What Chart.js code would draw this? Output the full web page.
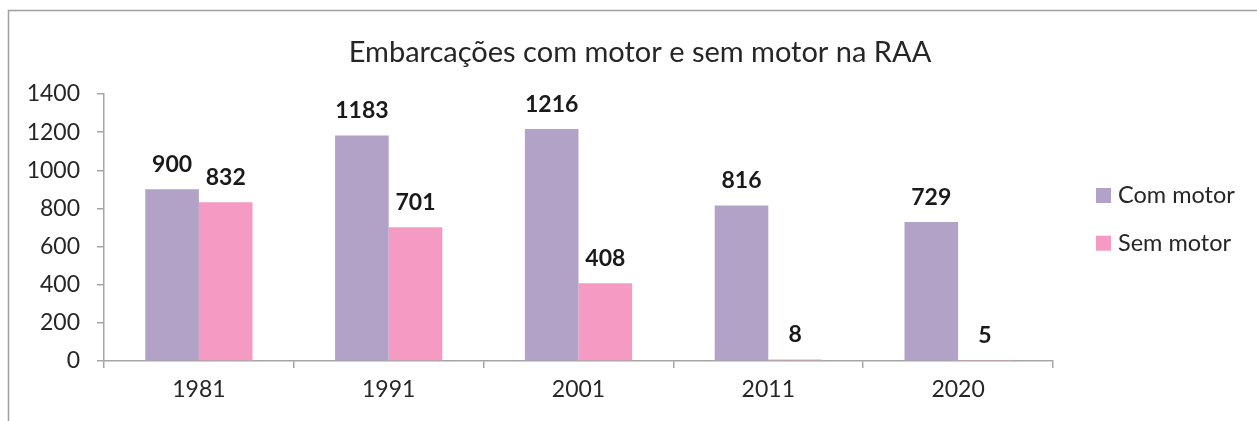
<!DOCTYPE html>
<html>
<head>
<meta charset="utf-8">
<script src="https://cdn.jsdelivr.net/npm/chart.js@4.4.1/dist/chart.umd.min.js"></script>
<style>
  html, body { margin: 0; padding: 0; background: #ffffff; }
  #wrap { position: relative; width: 1257px; height: 421px; }
</style>
</head>
<body>
<div id="wrap"><canvas id="c" width="1257" height="421"></canvas></div>
<script>
const titleText = 'Embarcações com motor e sem motor na RAA';
const categories = ['1981', '1991', '2001', '2011', '2020'];
const comMotor = [900, 1183, 1216, 816, 729];
const semMotor = [832, 701, 408, 8, 5];
const seriesNames = ['Com motor', 'Sem motor'];
const yTicks = [0, 200, 400, 600, 800, 1000, 1200, 1400];

const FONT = 'Lato, "Open Sans", sans-serif';
const TEXT = '#262626';
const AXIS = '#A6A6A6';

const frame = {
  id: 'frame',
  beforeDraw(chart) {
    const ctx = chart.ctx;
    ctx.save();
    ctx.fillStyle = '#ffffff';
    ctx.fillRect(0, 0, chart.width, chart.height);
    ctx.strokeStyle = '#A0A0A0';
    ctx.lineWidth = 1.5;
    ctx.strokeRect(8.5, 10.5, 1400, 600);
    ctx.restore();
  }
};

const valueLabels = {
  id: 'valueLabels',
  afterDatasetsDraw(chart) {
    const ctx = chart.ctx;
    ctx.save();
    ctx.font = 'bold 23px ' + FONT;
    ctx.fillStyle = '#1a1a1a';
    ctx.textAlign = 'center';
    ctx.textBaseline = 'alphabetic';
    chart.data.datasets.forEach((ds, di) => {
      const meta = chart.getDatasetMeta(di);
      meta.data.forEach((el, i) => {
        ctx.fillText(String(ds.data[i]), el.x, el.y - 17);
      });
    });
    ctx.restore();
  }
};

const sideLegend = {
  id: 'sideLegend',
  afterDraw(chart) {
    const ctx = chart.ctx;
    ctx.save();
    ctx.font = '23.5px ' + FONT;
    ctx.textAlign = 'left';
    ctx.textBaseline = 'alphabetic';
    const x0 = chart.chartArea.right + 43;
    const y0 = 188;
    const step = 47.7;
    chart.data.datasets.forEach((ds, i) => {
      const y = y0 + i * step;
      ctx.fillStyle = ds.backgroundColor;
      ctx.fillRect(x0, y, 15, 15);
      ctx.fillStyle = TEXT;
      ctx.fillText(ds.label, x0 + 22, y + 15);
    });
    ctx.restore();
  }
};

new Chart(document.getElementById('c'), {
  type: 'bar',
  data: {
    labels: categories,
    datasets: [
      { label: seriesNames[0], data: comMotor, backgroundColor: '#B3A2C7', borderWidth: 0,
        categoryPercentage: 0.565, barPercentage: 1.0, yAxisID: 'y' },
      { label: seriesNames[1], data: semMotor, backgroundColor: '#F59AC2', borderWidth: 0,
        categoryPercentage: 0.565, barPercentage: 1.0, yAxisID: 'y' }
    ]
  },
  options: {
    responsive: false,
    animation: false,
    devicePixelRatio: 1,
    layout: { padding: { left: 23, right: 0, top: 0, bottom: 0 } },
    plugins: {
      legend: { display: false },
      tooltip: { enabled: false },
      title: {
        display: true,
        text: titleText,
        color: TEXT,
        font: { family: FONT, size: 29, weight: 'normal', lineHeight: 1.2 },
        padding: { top: 35, bottom: 24.2 }
      }
    },
    scales: {
      x: {
        grid: { display: true, drawOnChartArea: false, drawTicks: true, tickLength: 7, color: AXIS, lineWidth: 1.5, offset: true },
        border: { display: true, color: AXIS, width: 1.5 },
        ticks: { color: TEXT, font: { family: FONT, size: 23 }, padding: 8, maxRotation: 0 },
        afterFit(s) { s.height = 60; }
      },
      y: {
        min: 0, max: 1400,
        afterBuildTicks(s) { s.ticks = yTicks.map(v => ({ value: v })); },
        grid: { display: true, drawOnChartArea: false, drawTicks: true, tickLength: 7, color: AXIS, lineWidth: 1.5 },
        border: { display: true, color: AXIS, width: 1.5 },
        ticks: { color: TEXT, font: { family: FONT, size: 23 }, padding: 17, callback: (v) => String(v) },
        afterFit(s) { s.width = 81; }
      },
      side: {
        type: 'linear',
        position: 'right',
        display: true,
        grid: { display: false },
        border: { display: false },
        ticks: { display: false },
        afterFit(s) { s.width = 204; }
      }
    }
  },
  plugins: [frame, valueLabels, sideLegend]
});
</script>
</body>
</html>
